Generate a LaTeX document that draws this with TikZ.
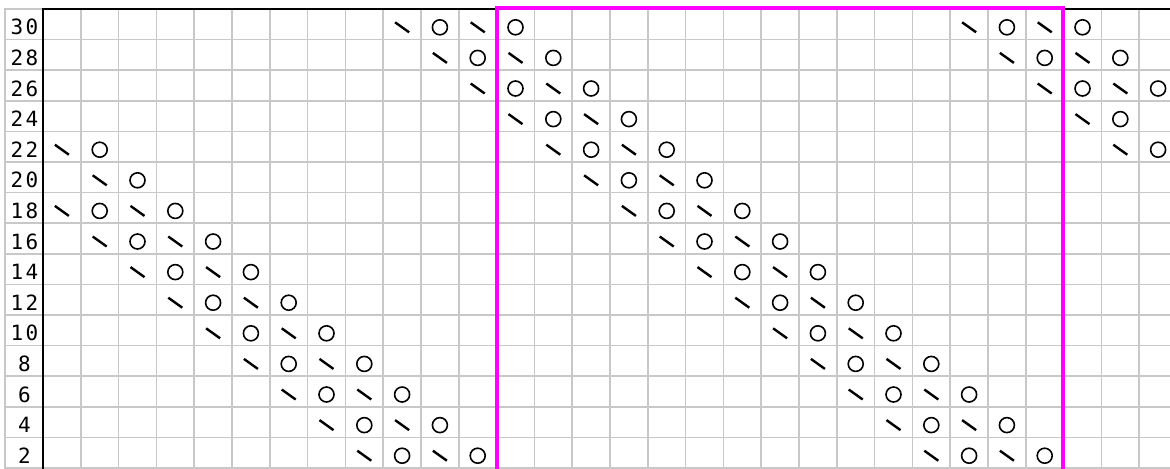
\documentclass[tikz,border=0pt]{standalone}
\usepackage{fontspec}
\newfontfamily\rowfont[LetterSpace=12]{DejaVu Sans Mono}
\definecolor{gridgray}{RGB}{200,200,200}
\definecolor{repeatpink}{RGB}{255,0,255}

\newcommand{\stitchpair}[2]{%
  \pgfmathsetmacro{\px}{43+37.8*(#1+0.5)}%
  \pgfmathsetmacro{\py}{9+30.6*(#2+0.5)+3}%
  \pgfmathsetmacro{\qx}{\px+37.8}%
  \draw[kdec] ({\px-7},{\py-5}) -- ({\px+7},{\py+5});
  \node[yo] (yo-#1-#2) at (\qx,\py) {};
}

\begin{document}
\begin{tikzpicture}[x=0.5pt, y=-0.5pt,
  yo/.style = {draw, circle, minimum size=7.5pt, inner sep=0pt, line width=0.8pt},
  kdec/.style = {line width=1.2pt},
  rowlab/.style = {font={\rowfont\fontsize{10.5}{12}\selectfont}, inner sep=0pt},
  gridline/.style = {draw=gridgray, line width=0.8pt},
  edgeline/.style = {draw=black, line width=0.75pt},
  repeatbox/.style = {draw=repeatpink, line width=2.2pt}]

    \useasboundingbox (0,0) rectangle (1170,468);
    \clip (0,0) rectangle (1170,468);

    \foreach \c in {1,...,30}
        \draw[gridline] ({43+37.8*\c},9) -- ({43+37.8*\c},470);
    \foreach \r in {1,...,15}
        \draw[gridline] (5,{9+30.6*\r}) -- (1170,{9+30.6*\r});
    \draw[gridline] (5,470) -- (5,9) -- (43,9);
    \draw[edgeline] (43,470) -- (43,9) -- (1170,9);

    \foreach \r/\lab in {0/30,1/28,2/26,3/24,4/22,5/20,6/18,7/16,8/14,9/12,10/10,11/8,12/6,13/4,14/2}
        \node[rowlab] (row\lab) at (24.5,{9+30.6*(\r+0.5)+3}) {\lab};

    \foreach \r in {0,...,14} {
        \pgfmathtruncatemacro{\c}{9+\r}
        \stitchpair{\c}{\r}
        \pgfmathtruncatemacro{\d}{11+\r}
        \stitchpair{\d}{\r}
    }

    \stitchpair{0}{4}
    \stitchpair{1}{5}
    \foreach \r in {6,...,14} {
        \pgfmathtruncatemacro{\c}{\r-6}
        \stitchpair{\c}{\r}
        \pgfmathtruncatemacro{\d}{\r-4}
        \stitchpair{\d}{\r}
    }

    \stitchpair{24}{0}
    \stitchpair{26}{0}
    \stitchpair{25}{1}
    \stitchpair{27}{1}
    \stitchpair{26}{2}
    \stitchpair{28}{2}
    \stitchpair{27}{3}
    \stitchpair{28}{4}

    \draw[repeatbox] (497,8) rectangle (1063,472);

\end{tikzpicture}
\end{document}
